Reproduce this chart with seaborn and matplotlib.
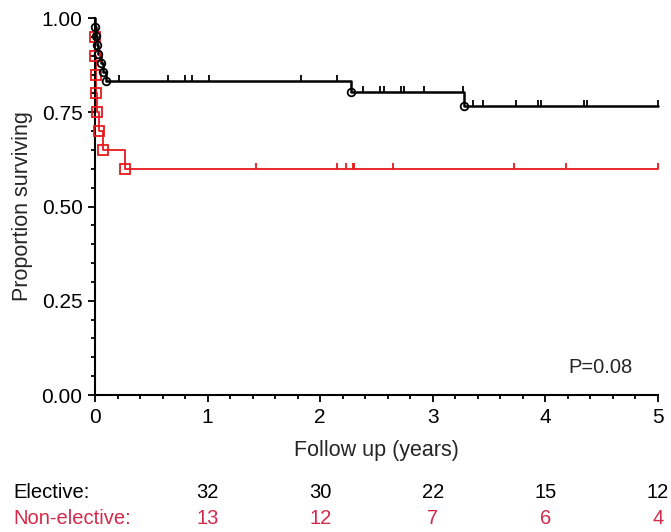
import numpy as np
import pandas as pd
import matplotlib
matplotlib.use("Agg")
import matplotlib.pyplot as plt
import seaborn as sns
from matplotlib.path import Path
from matplotlib.markers import MarkerStyle
from matplotlib.ticker import MultipleLocator, FormatStrFormatter
from matplotlib.transforms import blended_transform_factory

# step points (time in years, survival after event)
elective_t = [0.003, 0.008, 0.015, 0.03, 0.05, 0.07, 0.10, 2.27, 3.28]
elective_s = [0.976, 0.952, 0.929, 0.905, 0.881, 0.857, 0.833, 0.804, 0.766]
elective_cens = [0.21, 0.65, 0.80, 0.86, 1.01, 1.83, 2.15,
                 2.38, 2.53, 2.57, 2.72, 2.74, 2.92, 3.27,
                 3.36, 3.45, 3.74, 3.93, 3.96, 4.34, 4.37, 5.0]

nonel_t = [0.002, 0.004, 0.006, 0.01, 0.015, 0.035, 0.075, 0.27]
nonel_s = [0.95, 0.90, 0.85, 0.80, 0.75, 0.70, 0.65, 0.60]
nonel_cens = [1.43, 2.15, 2.23, 2.29, 2.30, 2.65, 3.72, 4.18, 5.0]

risk_years = [1, 2, 3, 4, 5]
risk_elective = [32, 30, 22, 15, 12]
risk_nonel = [13, 12, 7, 6, 4]

black = "black"
red = "#e8191c"
red_txt = "#d42a4a"

sns.set_style("ticks")
plt.rcParams["font.family"] = ["Liberation Sans", "DejaVu Sans"]

fig, ax = plt.subplots(figsize=(6.71, 5.32), dpi=100)
fig.subplots_adjust(left=0.1416, right=0.9806, top=0.966, bottom=0.2575)


def curve(t, s):
    # full step curve from t=0 to end of follow up
    return pd.DataFrame({"time": [0] + list(t) + [5.0],
                         "surv": [1.0] + list(s) + [s[-1]]})


def surv_at(t, s, x):
    idx = np.searchsorted(np.array(t), np.array(x), side="right")
    vals = np.array([1.0] + list(s))
    return vals[idx]


tick_marker = MarkerStyle(Path([(0, 0), (0, 1)]))

for t, s, cens, col, lw, mk, ms in [
        (nonel_t, nonel_s, nonel_cens, red, 1.3, "s", 7),
        (elective_t, elective_s, elective_cens, black, 1.8, "o", 5.5)]:
    d = curve(t, s)
    sns.lineplot(data=d, x="time", y="surv", ax=ax, color=col, lw=lw,
                 drawstyle="steps-post", estimator=None, sort=False,
                 clip_on=False)
    ax.plot(t, s, ls="none", marker=mk, ms=ms, mfc="none", mec=col,
            mew=1.3, clip_on=False, zorder=3)
    ax.plot(cens, surv_at(t, s, cens), ls="none", marker=tick_marker,
            ms=9, mec=col, mew=1.3, clip_on=False, zorder=3)

ax.set_xlim(0, 5)
ax.set_ylim(0, 1)
ax.xaxis.set_major_locator(MultipleLocator(1))
ax.xaxis.set_minor_locator(MultipleLocator(0.2))
ax.yaxis.set_major_locator(MultipleLocator(0.25))
ax.yaxis.set_minor_locator(MultipleLocator(0.05))
ax.yaxis.set_major_formatter(FormatStrFormatter("%.2f"))
ax.tick_params(which="major", length=5, width=1.3, labelsize=15, pad=4,
               color="black", labelcolor="black")
ax.tick_params(which="minor", length=3, width=1.3, color="black")
for sp in ["left", "bottom"]:
    ax.spines[sp].set_linewidth(1.5)
    ax.spines[sp].set_color("black")
sns.despine(ax=ax)

ax.set_xlabel("Follow up (years)", fontsize=15.5, labelpad=10)
ax.set_ylabel("Proportion surviving", fontsize=15.5, labelpad=6)

ax.text(4.2, 0.074, "P=0.08", fontsize=14.5, va="center", ha="left")

tr = blended_transform_factory(ax.transData, fig.transFigure)
y_el = 1 - 493 / 532
y_ne = 1 - 518 / 532
fig.text(13 / 671, y_el, "Elective:", fontsize=14.5, va="center", color="black")
fig.text(13 / 671, y_ne, "Non-elective:", fontsize=14.5, va="center", color=red_txt)
for x, a, b in zip(risk_years, risk_elective, risk_nonel):
    ax.text(x, y_el, str(a), transform=tr, ha="center", va="center",
            fontsize=14.5, color="black")
    ax.text(x, y_ne, str(b), transform=tr, ha="center", va="center",
            fontsize=14.5, color=red_txt)

fig.savefig("out.png", dpi=100)
